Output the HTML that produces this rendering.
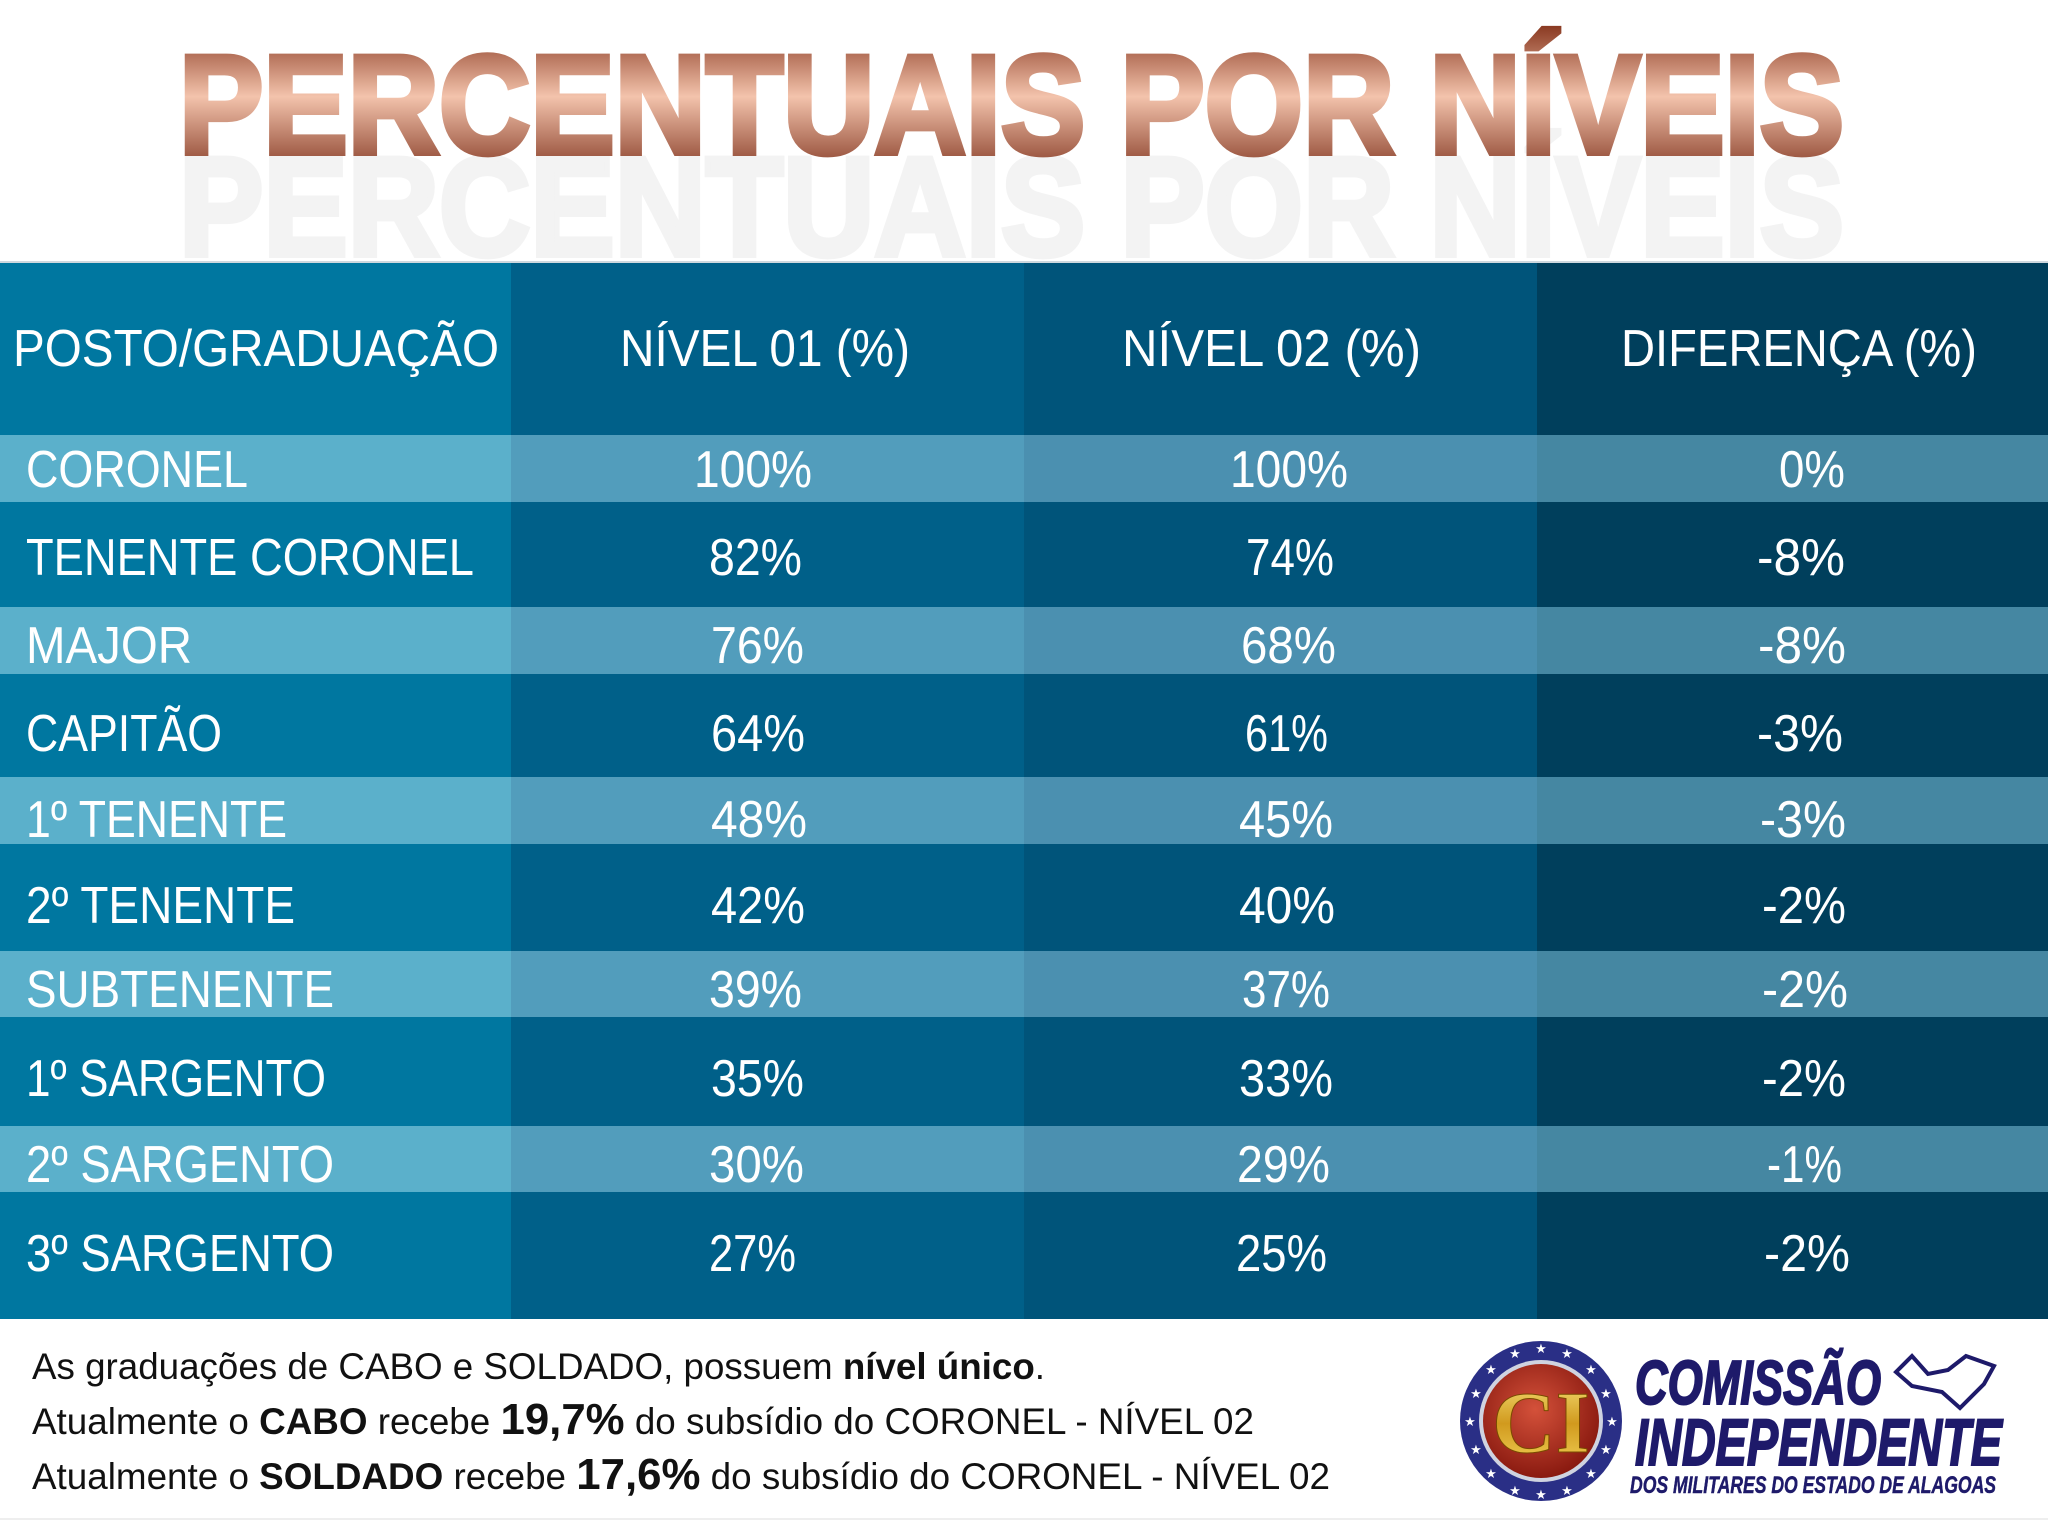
<!DOCTYPE html>
<html><head><meta charset="utf-8"><style>
html,body{margin:0;padding:0;background:#fff;width:2048px;height:1536px;overflow:hidden}
svg{display:block}
</style></head><body>
<svg width="2048" height="1536" viewBox="0 0 2048 1536" xmlns="http://www.w3.org/2000/svg">
<defs>
<linearGradient id="cu" x1="0" y1="0" x2="0" y2="1">
<stop offset="0" stop-color="#8a3a22"/><stop offset="0.45" stop-color="#f3c3ac"/><stop offset="1" stop-color="#7a2d18"/>
</linearGradient>
<radialGradient id="rd" cx="0.45" cy="0.4" r="0.6"><stop offset="0" stop-color="#d4513a"/><stop offset="1" stop-color="#8a1a10"/></radialGradient>
<linearGradient id="gd" x1="0" y1="0" x2="0" y2="1"><stop offset="0" stop-color="#f6e27a"/><stop offset="0.5" stop-color="#d19a1e"/><stop offset="1" stop-color="#f3d45a"/></linearGradient>
</defs>
<rect width="2048" height="1536" fill="#fff"/>
<text x="179" y="255" font-family="Liberation Sans" font-weight="bold" font-size="140" fill="#f3f3f3" stroke="#f3f3f3" stroke-width="6" textLength="1665" lengthAdjust="spacingAndGlyphs">PERCENTUAIS POR NÍVEIS</text>
<text x="179" y="153" font-family="Liberation Sans" font-weight="bold" font-size="140" fill="url(#cu)" stroke="url(#cu)" stroke-width="6" textLength="1665" lengthAdjust="spacingAndGlyphs">PERCENTUAIS POR NÍVEIS</text>
<rect x="0" y="261" width="511" height="1058" fill="#0077a0"/>
<rect x="511" y="261" width="513" height="1058" fill="#006089"/>
<rect x="1024" y="261" width="513" height="1058" fill="#00547a"/>
<rect x="1537" y="261" width="511" height="1058" fill="#003f5c"/>
<g>
<rect x="0" y="435" width="511" height="67" fill="#5bb0cb"/><rect x="511" y="435" width="513" height="67" fill="#529dbc"/><rect x="1024" y="435" width="513" height="67" fill="#4b90b0"/><rect x="1537" y="435" width="511" height="67" fill="#4587a2"/>
<rect x="0" y="607" width="511" height="67" fill="#5bb0cb"/><rect x="511" y="607" width="513" height="67" fill="#529dbc"/><rect x="1024" y="607" width="513" height="67" fill="#4b90b0"/><rect x="1537" y="607" width="511" height="67" fill="#4587a2"/>
<rect x="0" y="777" width="511" height="67" fill="#5bb0cb"/><rect x="511" y="777" width="513" height="67" fill="#529dbc"/><rect x="1024" y="777" width="513" height="67" fill="#4b90b0"/><rect x="1537" y="777" width="511" height="67" fill="#4587a2"/>
<rect x="0" y="951" width="511" height="66" fill="#5bb0cb"/><rect x="511" y="951" width="513" height="66" fill="#529dbc"/><rect x="1024" y="951" width="513" height="66" fill="#4b90b0"/><rect x="1537" y="951" width="511" height="66" fill="#4587a2"/>
<rect x="0" y="1126" width="511" height="66" fill="#5bb0cb"/><rect x="511" y="1126" width="513" height="66" fill="#529dbc"/><rect x="1024" y="1126" width="513" height="66" fill="#4b90b0"/><rect x="1537" y="1126" width="511" height="66" fill="#4587a2"/>
</g>
<rect x="0" y="261" width="2048" height="2" fill="#cfd8de"/>
<g font-family="Liberation Sans Narrow, Liberation Sans, sans-serif" font-size="52" fill="#fff" lengthAdjust="spacingAndGlyphs">
<text x="13" y="366" textLength="486" lengthAdjust="spacingAndGlyphs">POSTO/GRADUAÇÃO</text>
<text x="620" y="366" textLength="290" lengthAdjust="spacingAndGlyphs">NÍVEL 01 (%)</text>
<text x="1122" y="366" textLength="299" lengthAdjust="spacingAndGlyphs">NÍVEL 02 (%)</text>
<text x="1621" y="366" textLength="356" lengthAdjust="spacingAndGlyphs">DIFERENÇA (%)</text>
<text x="26" y="487" textLength="222" lengthAdjust="spacingAndGlyphs">CORONEL</text>
<text x="26" y="575" textLength="448" lengthAdjust="spacingAndGlyphs">TENENTE CORONEL</text>
<text x="26" y="663" textLength="166" lengthAdjust="spacingAndGlyphs">MAJOR</text>
<text x="26" y="751" textLength="196" lengthAdjust="spacingAndGlyphs">CAPITÃO</text>
<text x="26" y="837" textLength="261" lengthAdjust="spacingAndGlyphs">1º TENENTE</text>
<text x="26" y="923" textLength="269" lengthAdjust="spacingAndGlyphs">2º TENENTE</text>
<text x="26" y="1007" textLength="308" lengthAdjust="spacingAndGlyphs">SUBTENENTE</text>
<text x="26" y="1096" textLength="300" lengthAdjust="spacingAndGlyphs">1º SARGENTO</text>
<text x="26" y="1182" textLength="308" lengthAdjust="spacingAndGlyphs">2º SARGENTO</text>
<text x="26" y="1271" textLength="308" lengthAdjust="spacingAndGlyphs">3º SARGENTO</text>
<g lengthAdjust="spacingAndGlyphs">
<text x="694" y="487" textLength="118" lengthAdjust="spacingAndGlyphs">100%</text><text x="1230" y="487" textLength="118" lengthAdjust="spacingAndGlyphs">100%</text><text x="1779" y="487" textLength="66" lengthAdjust="spacingAndGlyphs">0%</text>
<text x="709" y="575" textLength="93" lengthAdjust="spacingAndGlyphs">82%</text><text x="1246" y="575" textLength="88" lengthAdjust="spacingAndGlyphs">74%</text><text x="1757" y="575" textLength="88" lengthAdjust="spacingAndGlyphs">-8%</text>
<text x="711" y="663" textLength="93" lengthAdjust="spacingAndGlyphs">76%</text><text x="1241" y="663" textLength="95" lengthAdjust="spacingAndGlyphs">68%</text><text x="1758" y="663" textLength="88" lengthAdjust="spacingAndGlyphs">-8%</text>
<text x="711" y="751" textLength="94" lengthAdjust="spacingAndGlyphs">64%</text><text x="1245" y="751" textLength="83" lengthAdjust="spacingAndGlyphs">61%</text><text x="1757" y="751" textLength="86" lengthAdjust="spacingAndGlyphs">-3%</text>
<text x="711" y="837" textLength="96" lengthAdjust="spacingAndGlyphs">48%</text><text x="1239" y="837" textLength="94" lengthAdjust="spacingAndGlyphs">45%</text><text x="1760" y="837" textLength="86" lengthAdjust="spacingAndGlyphs">-3%</text>
<text x="711" y="923" textLength="94" lengthAdjust="spacingAndGlyphs">42%</text><text x="1239" y="923" textLength="96" lengthAdjust="spacingAndGlyphs">40%</text><text x="1762" y="923" textLength="84" lengthAdjust="spacingAndGlyphs">-2%</text>
<text x="709" y="1007" textLength="93" lengthAdjust="spacingAndGlyphs">39%</text><text x="1242" y="1007" textLength="88" lengthAdjust="spacingAndGlyphs">37%</text><text x="1762" y="1007" textLength="86" lengthAdjust="spacingAndGlyphs">-2%</text>
<text x="711" y="1096" textLength="93" lengthAdjust="spacingAndGlyphs">35%</text><text x="1239" y="1096" textLength="94" lengthAdjust="spacingAndGlyphs">33%</text><text x="1762" y="1096" textLength="84" lengthAdjust="spacingAndGlyphs">-2%</text>
<text x="709" y="1182" textLength="95" lengthAdjust="spacingAndGlyphs">30%</text><text x="1237" y="1182" textLength="93" lengthAdjust="spacingAndGlyphs">29%</text><text x="1767" y="1182" textLength="75" lengthAdjust="spacingAndGlyphs">-1%</text>
<text x="709" y="1271" textLength="87" lengthAdjust="spacingAndGlyphs">27%</text><text x="1236" y="1271" textLength="91" lengthAdjust="spacingAndGlyphs">25%</text><text x="1764" y="1271" textLength="86" lengthAdjust="spacingAndGlyphs">-2%</text>
</g>
</g>
<g font-family="Liberation Sans Narrow, Liberation Sans, sans-serif" font-size="37" fill="#111">
<text x="32" y="1379" textLength="1013" lengthAdjust="spacingAndGlyphs">As graduações de CABO e SOLDADO, possuem <tspan font-weight="bold">nível único</tspan>.</text>
<text x="32" y="1434" textLength="1222" lengthAdjust="spacingAndGlyphs">Atualmente o <tspan font-weight="bold">CABO</tspan> recebe <tspan font-weight="bold" font-size="44">19,7%</tspan> do subsídio do CORONEL - NÍVEL 02</text>
<text x="32" y="1489" textLength="1298" lengthAdjust="spacingAndGlyphs">Atualmente o <tspan font-weight="bold">SOLDADO</tspan> recebe <tspan font-weight="bold" font-size="44">17,6%</tspan> do subsídio do CORONEL - NÍVEL 02</text>
</g>
<rect x="0" y="1518" width="2048" height="2" fill="#eee"/>
<ellipse cx="1541" cy="1421" rx="81" ry="80" fill="#2a2f86"/>
<ellipse cx="1541" cy="1421" rx="62" ry="61" fill="#cfd3e0"/>
<ellipse cx="1541" cy="1421" rx="58" ry="57" fill="url(#rd)"/>
<text x="1541" y="1452" text-anchor="middle" font-family="Liberation Serif" font-weight="bold" font-size="88" fill="url(#gd)" stroke="#7a4a00" stroke-width="1">CI</text>
<g fill="#fff" font-size="13" text-anchor="middle" font-family="DejaVu Sans">
<text x="1541" y="1353">★</text><text x="1541" y="1499">★</text><text x="1470" y="1426">★</text><text x="1612" y="1426">★</text>
<text x="1491" y="1374">★</text><text x="1591" y="1374">★</text><text x="1491" y="1478">★</text><text x="1591" y="1478">★</text>
<text x="1515" y="1358">★</text><text x="1567" y="1358">★</text><text x="1515" y="1495">★</text><text x="1567" y="1495">★</text>
<text x="1476" y="1398">★</text><text x="1606" y="1398">★</text><text x="1476" y="1454">★</text><text x="1606" y="1454">★</text>
</g>
<g font-family="Liberation Sans Narrow, Liberation Sans, sans-serif" font-weight="bold" font-style="italic" fill="#1e1a6a" stroke="#1e1a6a" stroke-width="2">
<text x="1635" y="1404" font-size="62" textLength="246" lengthAdjust="spacingAndGlyphs">COMISSÃO</text>
<text x="1635" y="1465" font-size="66" textLength="367" lengthAdjust="spacingAndGlyphs">INDEPENDENTE</text>
<text x="1630" y="1493" font-size="24" stroke-width="0.5" textLength="366" lengthAdjust="spacingAndGlyphs">DOS MILITARES DO ESTADO DE ALAGOAS</text>
</g>
<path d="M1896 1372 L1912 1356 L1928 1374 L1948 1370 L1966 1356 L1994 1366 L1984 1384 L1960 1408 L1942 1392 L1912 1386 Z" fill="none" stroke="#1e1a6a" stroke-width="4"/>
</svg>
</body></html>
